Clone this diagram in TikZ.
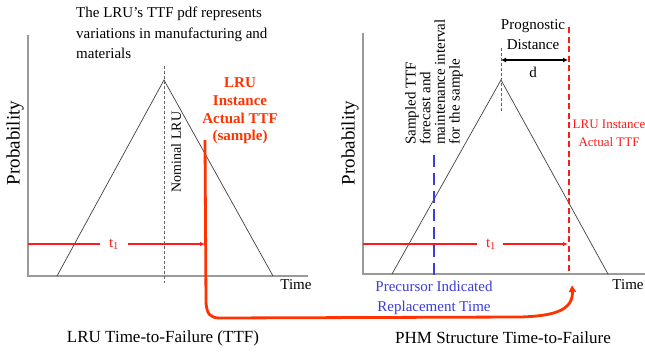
\documentclass[tikz,border=0pt]{standalone}
\usepackage{fontspec}
\setmainfont{Liberation Serif}
\usetikzlibrary{arrows.meta}
\definecolor{axgray}{HTML}{9A9A9A}
\definecolor{hotred}{HTML}{FF3300}
\definecolor{lred}{HTML}{FF1A1A}
\definecolor{pblue}{HTML}{3C3CD6}
\tikzset{
  axisln/.style={draw=axgray, line width=1.1pt},
  tri/.style={draw=black!75, line width=0.7pt},
  lbl/.style={inner sep=0pt, font=\fontsize{15}{20}\selectfont},
  guide/.style={draw=black!60, dashed, line width=0.6pt, dash pattern=on 3pt off 2pt},
  tline/.style={draw=lred, line width=1.1pt},
}
\begin{document}
\begin{tikzpicture}[x=1pt,y=-1pt]
\useasboundingbox (0,0) rectangle (645,356);
% ---------- left chart ----------
\coordinate (Lo) at (28,276);
\coordinate (Ltop) at (28,35);
\coordinate (Lend) at (308,276);
\draw[axisln] (Ltop) -- (Lo) -- (Lend);
\coordinate (La) at (57,276);
\coordinate (Lp) at (164,80);
\coordinate (Lb) at (273,276);
\draw[tri] (La) -- (Lp) -- (Lb);
\coordinate (Ldt) at (164,66);
\coordinate (Ldb) at (164,283);
\draw[guide] (Ldt) -- (Ldb);
\node[lbl, rotate=90, font=\fontsize{14}{17}\selectfont] (nom) at (176,152) {Nominal LRU};
\node[lbl, rotate=90, font=\fontsize{19}{22}\selectfont] (probL) at (15,143) {Probability};
\node[lbl] (timeL) at (296,285) {Time};
\node[lbl, align=left, anchor=west, font=\fontsize{15}{20.5}\selectfont] (title) at (76,33) {The LRU’s TTF pdf represents\\variations in manufacturing and\\materials};
\node[lbl, align=center, text=hotred, font=\fontsize{15}{17.7}\bfseries\selectfont] (inst) at (240,111) {LRU\\Instance\\Actual TTF\\(sample)};
\node[lbl, text=lred] (t1L) at (114,244) {t\textsubscript{1}};
\coordinate (t1Ls) at (28,244);
\coordinate (t1Le) at (205,244);
\draw[tline] (t1Ls) -- (t1L.west -| 100,0);
\draw[tline, -{Latex[length=5pt,width=4.5pt]}] (t1L.east -| 128,0) -- (t1Le);
\node[lbl, font=\fontsize{17}{20}\selectfont] (capL) at (163,338) {LRU Time-to-Failure (TTF)};
% ---------- right chart ----------
\coordinate (Ro) at (363,274);
\coordinate (Rtop) at (363,33);
\coordinate (Rend) at (646,274);
\draw[axisln] (Rtop) -- (Ro) -- (Rend);
\coordinate (Ra) at (392,274);
\coordinate (Rp) at (501,80);
\coordinate (Rb) at (608,274);
\draw[tri] (Ra) -- (Rp) -- (Rb);
\coordinate (Rdt) at (501,48);
\coordinate (Rdb) at (501,113);
\draw[guide] (Rdt) -- (Rdb);
\coordinate (Rrt) at (569,27);
\coordinate (Rrb) at (569,274);
\draw[draw=lred, line width=1.3pt, dash pattern=on 6pt off 3.5pt] (Rrt) -- (Rrb);
\coordinate (Bt) at (434,155);
\coordinate (Bb) at (434,276);
\draw[draw=pblue, line width=2.8pt, dash pattern=on 12pt off 6pt] (Bt) -- (Bb);
\coordinate (dA) at (501,60);
\coordinate (dB) at (568,60);
\draw[line width=1.2pt, {Latex[length=5pt,width=5pt]}-{Latex[length=5pt,width=5pt]}] (dA) -- (dB);
\node[lbl, align=center] (prog) at (533,35) {Prognostic\\Distance};
\node[lbl] (dlab) at (533,72) {d};
\node[lbl, rotate=90, font=\fontsize{19}{22}\selectfont] (probR) at (350,143) {Probability};
\node[lbl] (timeR) at (628,285) {Time};
\node[lbl, align=center, text=lred, font=\fontsize{13}{18}\selectfont] (instR) at (609,133) {LRU Instance\\Actual TTF};
\node[lbl, rotate=90, anchor=west, align=left, font=\fontsize{15}{14.7}\selectfont] (samp) at (434,145) {Sampled TTF\\forecast and\\maintenance interval\\for the sample};
\node[lbl, align=center, text=pblue] (prec) at (434,298) {Precursor Indicated\\Replacement Time};
\node[lbl, text=lred] (t1R) at (491,244) {t\textsubscript{1}};
\coordinate (t1Rs) at (363,244);
\coordinate (t1Re) at (568,244);
\draw[tline] (t1Rs) -- (t1R.west -| 477,0);
\draw[tline, -{Latex[length=5pt,width=4.5pt]}] (t1R.east -| 503,0) -- (t1Re);
\node[lbl, font=\fontsize{17}{20}\selectfont] (capR) at (503,338) {PHM Structure Time-to-Failure};
% ---------- thick red connector ----------
\coordinate (S0) at (205,140);
\coordinate (S1) at (206,303);
\coordinate (S2) at (220,318);
\coordinate (S3) at (520,317);
\coordinate (S4) at (572,286);
\draw[draw=hotred, line width=2.8pt, line join=round, -{Stealth[length=8pt,width=9pt,round]}]
  (S0) -- (S1) .. controls (207,314) and (210,318) .. (S2) -- (S3)
  .. controls (555,316) and (574,310) .. (S4);
\end{tikzpicture}
\end{document}
